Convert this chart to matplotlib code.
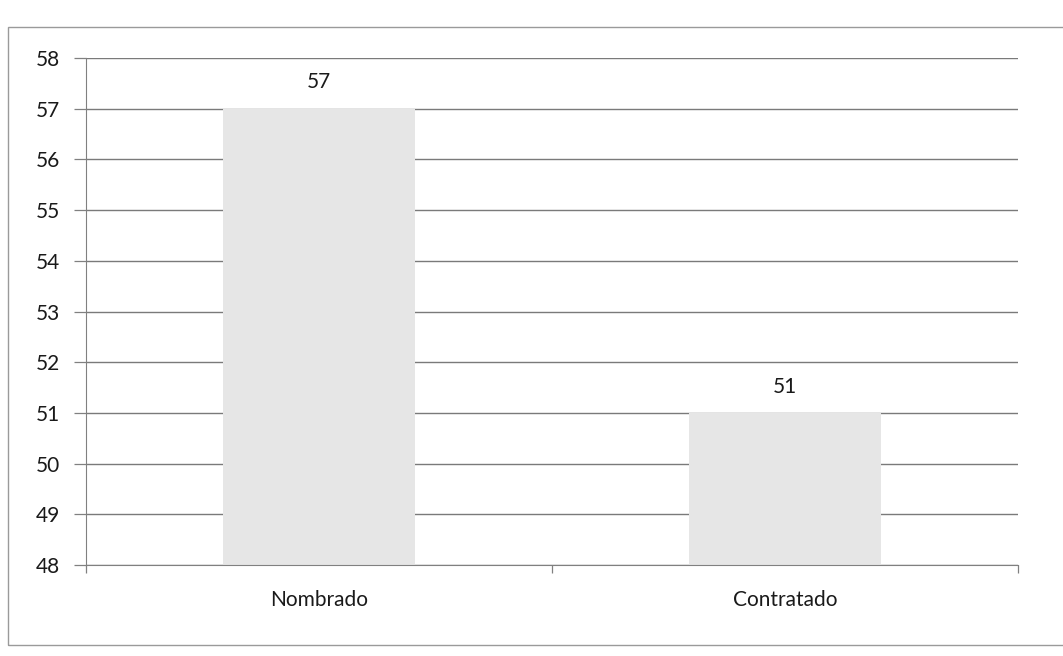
import matplotlib.pyplot as plt
from matplotlib.patches import Rectangle

categories = ['Nombrado', 'Contratado']
values = [57, 51]
yticks = [48, 49, 50, 51, 52, 53, 54, 55, 56, 57, 58]

plt.rcParams['font.family'] = ['Lato', 'DejaVu Sans']
plt.rcParams['hatch.color'] = '#d6d6d6'
plt.rcParams['hatch.linewidth'] = 0.6

fig = plt.figure(figsize=(10.63, 6.56), dpi=100)
ax = fig.add_axes([86/1063, 1-565/656, (1018-86)/1063, (565-58)/656])

x = list(range(len(categories)))
bars = ax.bar(x, [v - 48 for v in values], bottom=48, width=0.41,
              color='#e6e6e6', edgecolor='none', hatch='...', zorder=2)

for xi, v in zip(x, values):
    ax.text(xi, v + 0.32, str(v), ha='center', va='bottom', fontsize=15, color='#1a1a1a')

ax.set_xlim(-0.5, 1.5)
ax.set_ylim(48, 58)
ax.set_yticks(yticks)
ax.set_yticklabels([str(t) for t in yticks], fontsize=15, color='#1a1a1a')
ax.set_xticks(x)
ax.set_xticklabels(categories, fontsize=15, color='#1a1a1a')
ax.tick_params(axis='x', length=0, pad=18)
ax.tick_params(axis='y', length=9, color='#808080', width=0.9, pad=10)

# category boundary ticks on x axis
ax.set_xticks([-0.5, 0.5, 1.5], minor=True)
ax.tick_params(axis='x', which='minor', length=6, color='#808080', width=0.9)

ax.grid(axis='y', color='#7a7a7a', linewidth=1.0, zorder=1)
for side in ['top', 'right']:
    ax.spines[side].set_visible(False)
ax.spines['left'].set_color('#808080')
ax.spines['bottom'].set_color('#808080')

# outer chart border
fig.patches.append(Rectangle((8/1063, 1-645/656), 1.2, (645-27)/656,
                             transform=fig.transFigure, fill=False,
                             edgecolor='#9a9a9a', linewidth=1.0))

plt.savefig('out.png', dpi=100)
